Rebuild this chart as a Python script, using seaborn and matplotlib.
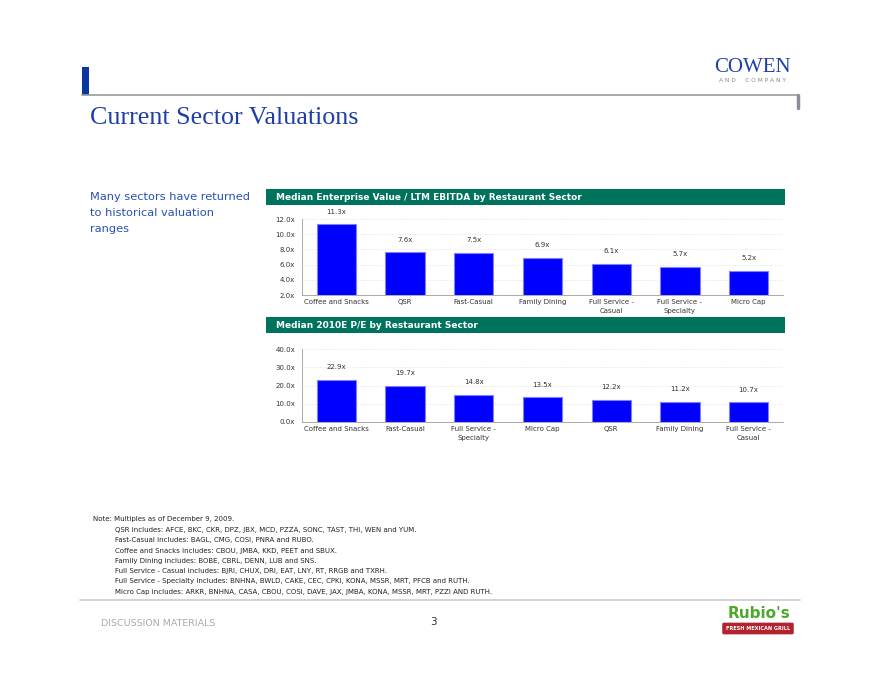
import matplotlib
matplotlib.use("Agg")
import matplotlib.pyplot as plt
import seaborn as sns
from matplotlib.patches import Rectangle, FancyBboxPatch
from matplotlib.lines import Line2D

# data
ev_sectors = ["Coffee and Snacks", "QSR", "Fast-Casual", "Family Dining",
              "Full Service -\nCasual", "Full Service -\nSpecialty", "Micro Cap"]
ev_values = [11.3, 7.6, 7.5, 6.9, 6.1, 5.7, 5.2]
ev_ticks = [2, 4, 6, 8, 10, 12]

pe_sectors = ["Coffee and Snacks", "Fast-Casual", "Full Service -\nSpecialty", "Micro Cap",
              "QSR", "Family Dining", "Full Service -\nCasual"]
pe_values = [22.9, 19.7, 14.8, 13.5, 12.2, 11.2, 10.7]
pe_ticks = [0, 10, 20, 30, 40]

notes = [
    "QSR includes: AFCE, BKC, CKR, DPZ, JBX, MCD, PZZA, SONC, TAST, THI, WEN and YUM.",
    "Fast-Casual includes: BAGL, CMG, COSI, PNRA and RUBO.",
    "Coffee and Snacks includes: CBOU, JMBA, KKD, PEET and SBUX.",
    "Family Dining includes: BOBE, CBRL, DENN, LUB and SNS.",
    "Full Service - Casual includes: BJRI, CHUX, DRI, EAT, LNY, RT, RRGB and TXRH.",
    "Full Service - Specialty includes: BNHNA, BWLD, CAKE, CEC, CPKI, KONA, MSSR, MRT, PFCB and RUTH.",
    "Micro Cap includes: ARKR, BNHNA, CASA, CBOU, COSI, DAVE, JAX, JMBA, KONA, MSSR, MRT, PZZI AND RUTH.",
]

sns.set_style("white")
plt.rcParams['font.family'] = ['DejaVu Sans']

W, H = 880, 680
fig = plt.figure(figsize=(8.8, 6.8), dpi=100)

def fx(px):
    return px / W

def fy(py):
    return 1 - py / H

GREEN = "#00735C"
BAR = "#0000FF"
BLUE_TXT = "#1F3FA8"
SMALL = 5.0

# page decorations
fig.add_artist(Rectangle((fx(82), fy(95)), fx(7), (95 - 67) / H, color="#0A36A0", lw=0))
fig.add_artist(Line2D([fx(82), fx(798)], [fy(95), fy(95)], color="#9A9A9A", lw=1.2))
fig.add_artist(Line2D([fx(798), fx(798)], [fy(95), fy(108)], color="#8A8F99", lw=2.5))
fig.text(fx(752), fy(67), "COWEN", family="Liberation Serif", color="#1F3FA8",
         fontsize=15, ha="center", va="center")
fig.text(fx(752), fy(81), "A N D     C O M P A N Y", color="#888888",
         fontsize=4.2, ha="center", va="center")
fig.text(fx(90), fy(118), "Current Sector Valuations", family="Liberation Serif",
         color=BLUE_TXT, fontsize=18.7, ha="left", va="center")
for i, line in enumerate(["Many sectors have returned", "to historical valuation", "ranges"]):
    fig.text(fx(90), fy(197 + i * 16), line, color="#2A4FB8", fontsize=8.2,
             ha="left", va="center")


def draw_panel(top_px, bottom_px, head_y, title, cats, vals, ticks):
    # green header band
    fig.add_artist(Rectangle((fx(266), fy(head_y + 16)), fx(785 - 266), 16 / H,
                             color=GREEN, lw=0))
    fig.text(fx(276), fy(head_y + 8), title, color="white", fontsize=6.5,
             fontweight="bold", ha="left", va="center")
    ax = fig.add_axes([fx(302), fy(bottom_px), fx(783 - 302), (bottom_px - top_px) / H])
    sns.barplot(x=cats, y=vals, ax=ax, color=BAR, saturation=1, width=0.57,
                edgecolor="#8080FF", linewidth=0.8)
    ax.set_ylim(ticks[0], ticks[-1])
    ax.set_xlim(-0.5, len(cats) - 0.5)
    ax.set_yticks(ticks)
    ax.set_yticklabels([f"{t:.1f}x" for t in ticks], fontsize=SMALL, color="#333333")
    ax.set_xticks(range(len(cats)))
    ax.set_xticklabels(cats, fontsize=SMALL, color="#333333", linespacing=1.5)
    ax.set_xticks([i + 0.5 for i in range(len(cats) - 1)], minor=True)
    ax.tick_params(axis="x", which="major", length=0, pad=3)
    ax.tick_params(axis="x", which="minor", length=3, color="#AAAAAA", width=0.6)
    ax.tick_params(axis="y", length=3, color="#AAAAAA", width=0.6, pad=2)
    ax.grid(axis="y", color="#D8D8D8", linestyle=(0, (1, 2)), lw=0.6)
    ax.set_axisbelow(True)
    for s in ["top", "right"]:
        ax.spines[s].set_visible(False)
    for s in ["left", "bottom"]:
        ax.spines[s].set_color("#AAAAAA")
        ax.spines[s].set_linewidth(0.7)
    ax.bar_label(ax.containers[0], labels=[f"{v:.1f}x" for v in vals],
                 padding=7, fontsize=SMALL, color="#333333")
    ax.set_xlabel("")
    ax.set_ylabel("")
    return ax


draw_panel(219, 295, 189, "Median Enterprise Value / LTM EBITDA by Restaurant Sector",
           ev_sectors, ev_values, ev_ticks)
draw_panel(349, 422, 317, "Median 2010E P/E by Restaurant Sector",
           pe_sectors, pe_values, pe_ticks)

# notes
fig.text(fx(93), fy(519), "Note: Multiples as of December 9, 2009.", fontsize=SMALL,
         color="#222222", ha="left", va="center")
for i, line in enumerate(notes):
    fig.text(fx(115), fy(530 + i * 10.3), line, fontsize=SMALL, color="#222222",
             ha="left", va="center")

fig.add_artist(Line2D([fx(80), fx(800)], [fy(600), fy(600)], color="#CCCCCC", lw=1.2))
fig.text(fx(101), fy(623), "DISCUSSION MATERIALS", color="#AAAAAA", fontsize=6.8,
         ha="left", va="center")
fig.text(fx(433), fy(622), "3", color="#333333", fontsize=7.5, ha="center", va="center")

# Rubio's logo approximation
fig.text(fx(759), fy(613), "Rubio's", color="#4FA82C", fontsize=11, fontweight="bold",
         ha="center", va="center")
fig.add_artist(FancyBboxPatch((fx(724), fy(633)), fx(68), 9 / H,
                              boxstyle="round,pad=0.002", color="#B0232F", lw=0))
fig.text(fx(758), fy(628.5), "FRESH MEXICAN GRILL", color="white", fontsize=3.6,
         fontweight="bold", ha="center", va="center")

fig.savefig("out.png", dpi=100)
